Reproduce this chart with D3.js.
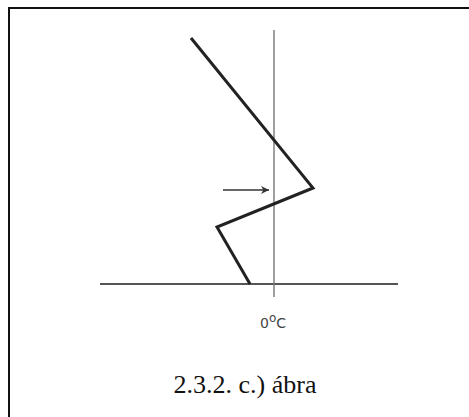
<!DOCTYPE html>
<html>
<head>
<meta charset="utf-8">
<script src="https://cdn.jsdelivr.net/npm/d3@7"></script>
<style>
  body { margin: 0; background: #fff; }
</style>
</head>
<body>
<div class="box"></div>
<script>
// temperature profile (°C) against height
const profileTemp = [-4.15, 1.95, -2.85, -1.2];
const profileHeight = [12.3, 4.8, 2.85, 0];

// arrow marking the inversion
const arrowTemp = [-2.55, -0.25];
const arrowHeight = 4.7;

const axisLabel = '0';
const caption = '2.3.2. c.) ábra';

const svg = d3.select('.box')
              .append('svg')
              .attr('width', 469)
              .attr('height', 417);

// frame (cut off at the right and bottom)
svg.append('rect')
   .attr('x', 9).attr('y', 8)
   .attr('width', 470).attr('height', 420)
   .attr('fill', 'none')
   .attr('stroke', '#111')
   .attr('stroke-width', 2);

const x = d3.scaleLinear().domain([-8.7, 6.2]).range([100, 398]);
const y = d3.scaleLinear().domain([0, 12.7]).range([284, 30]);

// ground line
svg.append('line')
   .attr('x1', x(-8.7)).attr('x2', x(6.2))
   .attr('y1', y(0)).attr('y2', y(0))
   .attr('stroke', '#555')
   .attr('stroke-width', 2);

// 0 °C line
svg.append('line')
   .attr('x1', x(0)).attr('x2', x(0))
   .attr('y1', y(12.7)).attr('y2', y(-0.65))
   .attr('stroke', '#777')
   .attr('stroke-width', 1.4);

// profile
const line = d3.line()
               .x(d => x(d[0]))
               .y(d => y(d[1]));

svg.append('path')
   .datum(profileTemp.map((t, i) => [t, profileHeight[i]]))
   .attr('d', line)
   .attr('fill', 'none')
   .attr('stroke', '#222')
   .attr('stroke-width', 3)
   .attr('stroke-linejoin', 'miter');

// arrow
svg.append('defs').append('marker')
   .attr('id', 'head')
   .attr('viewBox', '0 0 10 10')
   .attr('refX', 10).attr('refY', 5)
   .attr('markerWidth', 10).attr('markerHeight', 8)
   .attr('markerUnits', 'userSpaceOnUse')
   .attr('orient', 'auto')
   .append('path')
   .attr('d', 'M0,0 L10,5 L0,10 L3,5 Z')
   .attr('fill', '#333');

svg.append('line')
   .attr('x1', x(arrowTemp[0])).attr('x2', x(arrowTemp[1]))
   .attr('y1', y(arrowHeight)).attr('y2', y(arrowHeight))
   .attr('stroke', '#333')
   .attr('stroke-width', 1.5)
   .attr('marker-end', 'url(#head)');

// 0°C label
const lab = svg.append('text')
   .attr('x', x(0) - 1)
   .attr('y', 328)
   .attr('text-anchor', 'middle')
   .attr('font-family', 'DejaVu Sans, sans-serif')
   .attr('font-size', 14)
   .attr('fill', '#444');
lab.append('tspan').text(axisLabel);
lab.append('tspan').attr('dy', -6).attr('font-size', 12).text('o');
lab.append('tspan').attr('dy', 6).text('C');

// caption
svg.append('text')
   .attr('x', 245)
   .attr('y', 393)
   .attr('text-anchor', 'middle')
   .attr('font-family', 'Liberation Serif, Times New Roman, serif')
   .attr('font-size', 26)
   .attr('fill', '#111')
   .text(caption);
</script>
</body>
</html>
